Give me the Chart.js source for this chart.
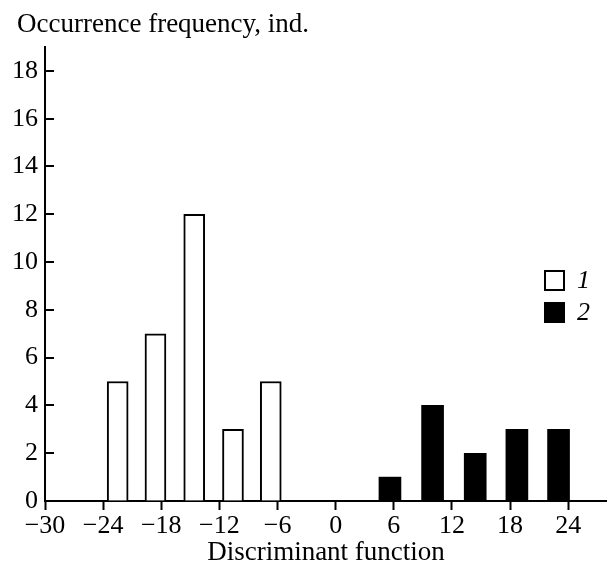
<!DOCTYPE html>
<html><head><meta charset="utf-8">
<script src="https://cdn.jsdelivr.net/npm/chart.js@4.4.1/dist/chart.umd.min.js"></script>
<style>html,body{margin:0;padding:0;background:#fff}#wrap{width:607px;height:569px;position:relative}</style>
</head><body><div id="wrap"><canvas id="c"></canvas></div>
<script>
// ---- data ----
const xTickValues = [-30, -24, -18, -12, -6, 0, 6, 12, 18, 24];
const yTickValues = [0, 2, 4, 6, 8, 10, 12, 14, 16, 18];
const group1Centers = [-22.5, -18.6, -14.6, -10.6, -6.7];
const group1Counts  = [5, 7, 12, 3, 5];
const group2Centers = [5.6, 10.0, 14.4, 18.7, 23.0];
const group2Counts  = [1, 4, 2, 3, 3];
const seriesLabels  = ['1', '2'];
const yAxisTitle = 'Occurrence frequency, ind.';
const xAxisTitle = 'Discriminant function';

const FONT = '"Liberation Serif", "Times New Roman", serif';
const FS_TICK = 26;
const FS_TITLE = 27;
Chart.defaults.font.family = FONT;
Chart.defaults.color = '#000';

const toPoints = (xs, ys) => xs.map((x, i) => ({ x: x, y: ys[i] }));

const innerTicks = {
  id: 'innerTicks',
  afterDraw(chart) {
    const ys = chart.scales.y, ctx = chart.ctx;
    ctx.save();
    ctx.strokeStyle = '#000'; ctx.lineWidth = 2;
    ys.ticks.forEach(t => {
      if (t.value === 0) return;
      const py = Math.round(ys.getPixelForValue(t.value));
      ctx.beginPath(); ctx.moveTo(ys.right, py); ctx.lineTo(ys.right + 9, py); ctx.stroke();
    });
    ctx.restore();
  }
};

const topTitle = {
  id: 'topTitle',
  afterDraw(chart) {
    const ctx = chart.ctx;
    ctx.save();
    ctx.fillStyle = '#000';
    ctx.font = FS_TITLE + 'px ' + FONT;
    ctx.textBaseline = 'alphabetic'; ctx.textAlign = 'left';
    ctx.fillText(yAxisTitle, 17, 32);
    ctx.restore();
  }
};

const boxLegend = {
  id: 'boxLegend',
  afterDraw(chart) {
    const ctx = chart.ctx;
    const lx = 544, ly = 270, size = 21, gap = 32;
    ctx.save();
    chart.data.datasets.forEach((ds, i) => {
      const top = ly + i * gap;
      ctx.fillStyle = ds.backgroundColor;
      ctx.fillRect(lx, top, size, size);
      if (ds.borderWidth) {
        ctx.lineWidth = ds.borderWidth; ctx.strokeStyle = ds.borderColor;
        ctx.strokeRect(lx + 1, top + 1, size - 2, size - 2);
      }
      ctx.fillStyle = '#000';
      ctx.font = 'italic ' + FS_TICK + 'px ' + FONT;
      ctx.textBaseline = 'middle'; ctx.textAlign = 'left';
      ctx.fillText(ds.label, lx + size + 12, top + size / 2 + 1);
    });
    ctx.restore();
  }
};

new Chart(document.getElementById('c'), {
  type: 'bar',
  data: {
    datasets: [
      { label: seriesLabels[0], data: toPoints(group1Centers, group1Counts),
        backgroundColor: '#fff', borderColor: '#000', borderWidth: 2, borderSkipped: 'bottom',
        barThickness: 21, grouped: false },
      { label: seriesLabels[1], data: toPoints(group2Centers, group2Counts),
        backgroundColor: '#000', borderColor: '#000', borderWidth: 0,
        barThickness: 22, grouped: false }
    ]
  },
  options: {
    responsive: true, maintainAspectRatio: false, animation: false,
    layout: { padding: { top: 47, left: 0, right: 0, bottom: 0 } },
    plugins: { legend: { display: false }, tooltip: { enabled: false }, title: { display: false } },
    scales: {
      x: {
        type: 'linear', min: -30, max: 28, offset: false, z: 1,
        afterBuildTicks: s => { s.ticks = xTickValues.map(v => ({ value: v })); },
        afterFit: s => { s.height = 68; },
        border: { display: true, color: '#000', width: 2 },
        grid: { display: true, drawOnChartArea: false, drawTicks: true, tickLength: 9,
                tickWidth: 2, tickColor: '#000', offset: false },
        ticks: { color: '#000', font: { size: FS_TICK }, padding: 1, maxRotation: 0, autoSkip: false,
                 callback: v => v < 0 ? '\u2212' + Math.abs(v) : String(v) },
        title: { display: true, text: xAxisTitle, color: '#000', font: { size: FS_TITLE },
                 padding: { top: 0, bottom: 0 } }
      },
      y: {
        type: 'linear', min: 0, max: 19, z: 1,
        afterBuildTicks: s => { s.ticks = yTickValues.map(v => ({ value: v })); },
        afterFit: s => { s.width = 45; },
        border: { display: true, color: '#000', width: 2 },
        grid: { display: true, drawOnChartArea: false, drawTicks: false },
        ticks: { color: '#000', font: { size: FS_TICK }, padding: 7, autoSkip: false }
      }
    }
  },
  plugins: [innerTicks, topTitle, boxLegend]
});
</script></body></html>
